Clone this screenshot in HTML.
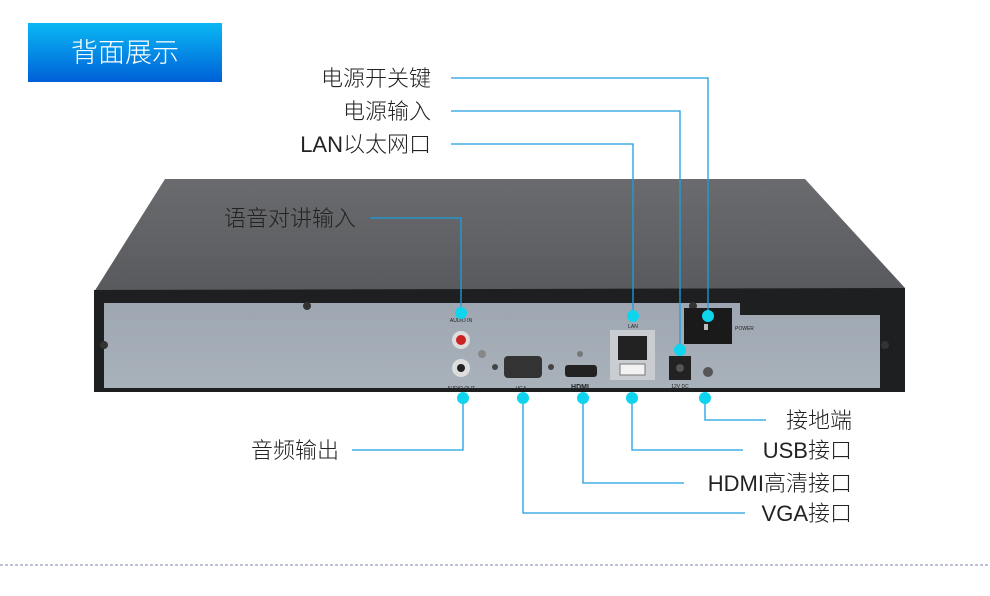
<!DOCTYPE html>
<html><head><meta charset="utf-8"><style>
body{margin:0;background:#fff;}
svg{display:block}
text{font-family:"Liberation Sans","Noto Sans CJK SC",sans-serif;font-size:22px;fill:#222;font-weight:300}
</style></head><body>
<svg width="990" height="596" viewBox="0 0 990 596" xmlns="http://www.w3.org/2000/svg">
<defs>
<linearGradient id="tg" x1="0" y1="0" x2="0" y2="1"><stop offset="0" stop-color="#0ab8f4"/><stop offset="1" stop-color="#0060d8"/></linearGradient>
<linearGradient id="top" x1="0" y1="0" x2="0" y2="1"><stop offset="0" stop-color="#6a6b6e"/><stop offset="1" stop-color="#4a4b4e"/></linearGradient>
<linearGradient id="pan" x1="0" y1="0" x2="0" y2="1"><stop offset="0" stop-color="#9ea7b1"/><stop offset="1" stop-color="#a9b2bb"/></linearGradient>
</defs>
<rect x="28" y="23" width="194" height="59" fill="url(#tg)"/>
<text x="125" y="62" text-anchor="middle" style="fill:#fff;font-size:27px">背面展示</text>
<polygon points="165,179 805,179 905,288 905,392 94,392 94,292" fill="url(#top)"/>
<polygon points="94,290 905,288 905,392 94,392" fill="#1e1f21"/>
<rect x="104" y="303" width="776" height="85" fill="url(#pan)"/>
<polygon points="740,303 880,303 880,315 740,315" fill="#1e1f21"/>
<circle cx="104" cy="345" r="4" fill="#333"/><circle cx="885" cy="345" r="4" fill="#333"/>
<circle cx="307" cy="306" r="4" fill="#333"/><circle cx="693" cy="306" r="4" fill="#333"/>
<circle cx="461" cy="340" r="9" fill="#ddd"/><circle cx="461" cy="340" r="5" fill="#c22"/>
<circle cx="461" cy="368" r="9" fill="#ddd"/><circle cx="461" cy="368" r="4" fill="#222"/>
<circle cx="482" cy="354" r="4" fill="#888"/>
<rect x="504" y="356" width="38" height="22" rx="4" fill="#333"/><circle cx="495" cy="367" r="3" fill="#444"/><circle cx="551" cy="367" r="3" fill="#444"/>
<rect x="565" y="365" width="32" height="12" rx="3" fill="#222"/><circle cx="580" cy="354" r="3" fill="#777"/>
<rect x="610" y="330" width="45" height="50" fill="#c9ccd0"/><rect x="618" y="336" width="29" height="24" fill="#222"/><rect x="620" y="364" width="25" height="11" fill="#f2f2f2" stroke="#777"/>
<rect x="669" y="356" width="22" height="24" fill="#222"/><circle cx="680" cy="368" r="4" fill="#555"/>
<circle cx="708" cy="372" r="5" fill="#555"/>
<rect x="684" y="308" width="48" height="36" fill="#1a1a1a"/><rect x="704" y="324" width="4" height="6" fill="#bbb"/>
<g>
<text x="461" y="322" text-anchor="middle" style="font-size:5px">AUDIO IN</text>
<text x="461" y="390" text-anchor="middle" style="font-size:5px">AUDIO OUT</text>
<text x="521" y="390" text-anchor="middle" style="font-size:5px">VGA</text>
<text x="633" y="328" text-anchor="middle" style="font-size:5px">LAN</text>
<text x="735" y="330" style="font-size:5px">POWER</text>
<text x="680" y="388" text-anchor="middle" style="font-size:5px">12V DC</text>
<text x="580" y="389" text-anchor="middle" style="font-size:7px;font-weight:bold">HDMI</text>
</g>
<g stroke="#1c9fe0" stroke-width="1.3" fill="none">
<polyline points="451,78 708,78 708,316"/>
<polyline points="451,111 680,111 680,350"/>
<polyline points="451,144 633,144 633,316"/>
<polyline points="370,218 461,218 461,313"/>
<polyline points="352,450 463,450 463,398"/>
<polyline points="523,398 523,513 745,513"/>
<polyline points="583,398 583,483 684,483"/>
<polyline points="632,398 632,450 743,450"/>
<polyline points="705,398 705,420 766,420"/>
</g>
<g fill="#0fd4ee">
<circle cx="708" cy="316" r="6"/><circle cx="680" cy="350" r="6"/><circle cx="633" cy="316" r="6"/><circle cx="461" cy="313" r="6"/>
<circle cx="463" cy="398" r="6"/><circle cx="523" cy="398" r="6"/><circle cx="583" cy="398" r="6"/><circle cx="632" cy="398" r="6"/><circle cx="705" cy="398" r="6"/>
</g>
<text x="431" y="86" text-anchor="end">电源开关键</text>
<text x="431" y="119" text-anchor="end">电源输入</text>
<text x="431" y="152" text-anchor="end">LAN以太网口</text>
<text x="356" y="226" text-anchor="end">语音对讲输入</text>
<text x="339" y="458" text-anchor="end">音频输出</text>
<text x="852" y="428" text-anchor="end">接地端</text>
<text x="852" y="458" text-anchor="end">USB接口</text>
<text x="852" y="491" text-anchor="end">HDMI高清接口</text>
<text x="852" y="521" text-anchor="end">VGA接口</text>
<line x1="0" y1="565" x2="990" y2="565" stroke="#7a86a8" stroke-width="1" stroke-dasharray="3,2"/>
</svg>
</body></html>
